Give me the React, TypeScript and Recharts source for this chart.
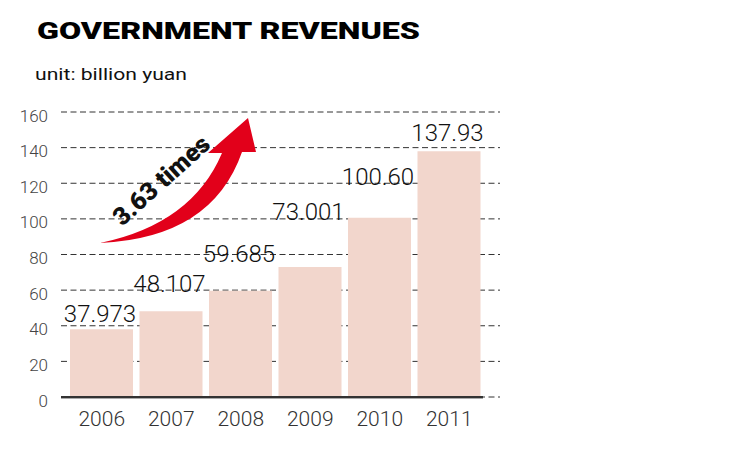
import React from 'react'
import { BarChart, Bar, XAxis, YAxis, CartesianGrid, LabelList } from 'recharts'

const years = ['2006', '2007', '2008', '2009', '2010', '2011']
const revenues = [37.973, 48.107, 59.685, 73.001, 100.6, 137.93]
const revenueLabels = ['37.973', '48.107', '59.685', '73.001', '100.60', '137.93']
const yTicks = [0, 20, 40, 60, 80, 100, 120, 140, 160]

const data = years.map((year, i) => ({ year, value: revenues[i], label: revenueLabels[i] }))

const font = 'Roboto, "Open Sans", sans-serif'

// labels in the original are staggered by hand, not all sitting on the bar top
const labelLift = [7, 19, 29, 47, 33, 10]

function renderValueLabel(props: any) {
  const { x, y, width, value, index } = props
  const lift = labelLift[index] ?? 6
  return (
    <text
      x={x + width / 2 - 1.5}
      y={y - lift}
      textAnchor="middle"
      fill="#111"
      fontSize={24}
      fontWeight={300}
      fontFamily={font}
    >
      {value}
    </text>
  )
}

function YTick({ x, y, payload }: any) {
  return (
    <text x={x} y={y + 9.5} textAnchor="end" fill="#444" fontSize={17} fontWeight={300} fontFamily={font}>
      {payload.value}
    </text>
  )
}

function XTick({ x, y, payload }: any) {
  return (
    <text x={x} y={y + 23} textAnchor="middle" fill="#333" fontSize={21} fontWeight={300} fontFamily={font}>
      {payload.value}
    </text>
  )
}

function Overlay() {
  return (
    <svg width={743} height={459} style={{ position: 'absolute', left: 0, top: 0, pointerEvents: 'none' }}>
      <text x={37} y={38.5} fontFamily={font} fontWeight={900} fontSize={23.5} fill="#000" textLength={383} lengthAdjust="spacingAndGlyphs">
        GOVERNMENT REVENUES
      </text>
      <text x={35} y={80} fontFamily={font} fontSize={17} fill="#111" textLength={152} lengthAdjust="spacingAndGlyphs">
        unit: billion yuan
      </text>
      <path
        d="M 100 243 Q 212 238 242 152 L 256 152 L 248 118 L 208 153 L 222 153 Q 192 224 100 243 Z"
        fill="#e2001a"
      />
      <text
        x={161}
        y={189}
        transform="rotate(-42 161 180)"
        textAnchor="middle"
        fontFamily={font}
        fontWeight={900}
        fontSize={25}
        fill="#111"
      >
        3.63 times
      </text>
    </svg>
  )
}

export default function App() {
  return (
    <div style={{ position: 'absolute', left: 0, top: 0, width: 743, height: 459, background: '#fff', fontFamily: font }}>
      <div style={{ position: 'absolute', left: 0, top: 0 }}>
        <BarChart
          width={743}
          height={459}
          data={data}
          margin={{ top: 112, right: 243, bottom: 32, left: 11 }}
        >
          <XAxis
            dataKey="year"
            axisLine={false}
            tickLine={false}
            padding={{ left: 6, right: 16 }}
            tickMargin={0}
            height={30}
            tick={<XTick />}
          />
          <YAxis
            domain={[0, 160]}
            ticks={yTicks}
            axisLine={false}
            tickLine={false}
            width={50}
            tickMargin={7}
            tick={<YTick />}
          />
          <Bar dataKey="value" fill="#f2d6cc" barSize={63} isAnimationActive={false}>
            <LabelList dataKey="label" content={renderValueLabel} />
          </Bar>
          <CartesianGrid vertical={false} stroke="#333" strokeDasharray="6 3.5" />
        </BarChart>
      </div>
      <div style={{ position: 'absolute', left: 61, top: 396, width: 422, height: 1.5, background: '#333', borderBottom: '1px solid #aaa' }} />
      <Overlay />
    </div>
  )
}
